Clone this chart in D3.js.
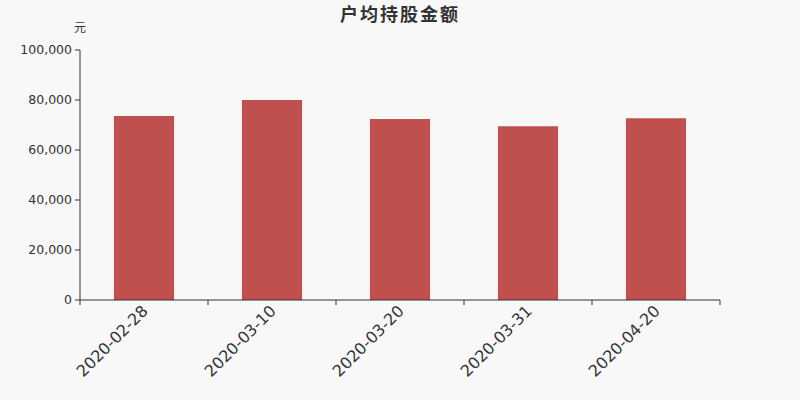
<!DOCTYPE html>
<html>
<head>
<meta charset="utf-8">
<script src="https://cdn.jsdelivr.net/npm/d3@7"></script>
<style>
  body { margin: 0; background: #f8f8f8; }
  svg { display: block; font-family: "DejaVu Sans", sans-serif; }
</style>
</head>
<body>
<div id="chart"></div>
<script>
var dates = ["2020-02-28", "2020-03-10", "2020-03-20", "2020-03-31", "2020-04-20"];
var amounts = [73600, 80000, 72400, 69500, 72700];
var yTicks = [0, 20000, 40000, 60000, 80000, 100000];

var margin = {top: 50, right: 80, bottom: 100, left: 80}
  , width = 800 - margin.left - margin.right
  , height = 400 - margin.top - margin.bottom;

var x = d3.scaleBand()
          .domain(dates)
          .range([0, width])
          .paddingInner(0.53)
          .paddingOuter(0.265);

var y = d3.scaleLinear()
          .domain([0, 100000])
          .range([height, 0]);

var chart = d3.select('#chart')
  .append('svg')
  .attr('width', 800)
  .attr('height', 400);

chart.append('rect')
  .attr('width', 800)
  .attr('height', 400)
  .attr('fill', '#f8f8f8');

// title
chart.append('text')
  .attr('x', 400)
  .attr('y', 21)
  .attr('text-anchor', 'middle')
  .attr('font-size', 18)
  .attr('font-weight', 'bold')
  .attr('letter-spacing', 2)
  .attr('fill', '#333')
  .attr('font-family', '"Noto Sans CJK SC", sans-serif')
  .text('户均持股金额');

var main = chart.append('g')
  .attr('transform', 'translate(' + margin.left + ',' + margin.top + ')');

// unit label
main.append('text')
  .attr('x', 0)
  .attr('y', -18)
  .attr('text-anchor', 'middle')
  .attr('font-size', 12)
  .attr('fill', '#333')
  .attr('font-family', '"Noto Sans CJK SC", sans-serif')
  .text('元');

// bars
main.selectAll('rect.bar')
  .data(amounts)
  .enter().append('rect')
    .attr('class', 'bar')
    .attr('x', function(d, i) { return x(dates[i]); })
    .attr('width', x.bandwidth())
    .attr('y', function(d) { return y(d); })
    .attr('height', function(d) { return height - y(d); })
    .attr('fill', '#c0504e');

// y axis, labels drawn by hand so the font is ours
var yAxis = main.append('g');
yAxis.append('line')
  .attr('x1', 0).attr('x2', 0)
  .attr('y1', 0).attr('y2', height)
  .attr('stroke', '#333');
yAxis.selectAll('line.tick')
  .data(yTicks)
  .enter().append('line')
    .attr('class', 'tick')
    .attr('x1', -5).attr('x2', 0)
    .attr('y1', function(d) { return y(d); })
    .attr('y2', function(d) { return y(d); })
    .attr('stroke', '#333');
yAxis.selectAll('text')
  .data(yTicks)
  .enter().append('text')
    .attr('x', -8)
    .attr('y', function(d) { return y(d); })
    .attr('dy', '0.35em')
    .attr('text-anchor', 'end')
    .attr('font-size', 12.5)
    .attr('fill', '#333')
    .text(d3.format(','));

// x axis, ticks on band boundaries
var xAxis = main.append('g')
  .attr('transform', 'translate(0,' + height + ')');
xAxis.append('line')
  .attr('x1', 0).attr('x2', width)
  .attr('stroke', '#333');
var bounds = dates.map(function(d) { return x(d) - x.step() * x.paddingInner() / 2; });
bounds.push(width);
xAxis.selectAll('line.tick')
  .data(bounds)
  .enter().append('line')
    .attr('class', 'tick')
    .attr('x1', function(d) { return d; })
    .attr('x2', function(d) { return d; })
    .attr('y1', 0).attr('y2', 5)
    .attr('stroke', '#333');

xAxis.selectAll('text')
  .data(dates)
  .enter().append('text')
    .attr('transform', function(d) {
      return 'translate(' + (x(d) + x.bandwidth() / 2 + 5) + ',12) rotate(-45)';
    })
    .attr('text-anchor', 'end')
    .attr('font-size', 16)
    .attr('fill', '#333')
    .text(function(d) { return d; });
</script>
</body>
</html>
